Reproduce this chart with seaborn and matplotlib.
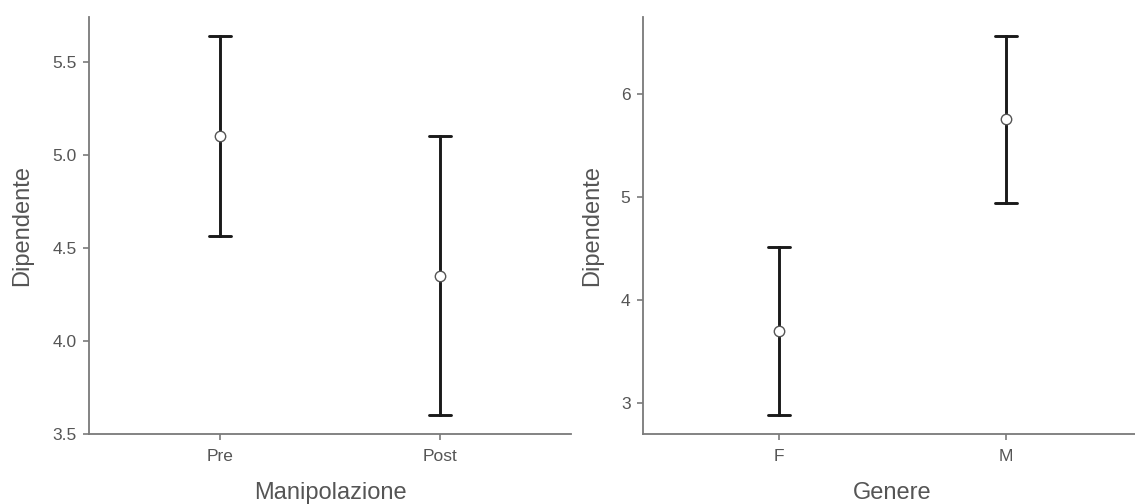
import numpy as np
import pandas as pd
import matplotlib
matplotlib.use("Agg")
import matplotlib.pyplot as plt
import seaborn as sns

# Means and 95% confidence limits of "Dipendente" per group
manip_levels = ["Pre", "Post"]
manip_mean = [5.10, 4.35]
manip_lower = [4.565, 3.60]
manip_upper = [5.64, 5.10]

genere_levels = ["F", "M"]
genere_mean = [3.70, 5.755]
genere_lower = [2.88, 4.94]
genere_upper = [4.515, 6.57]

sns.set_theme(style="ticks")
plt.rcParams["font.family"] = ["Liberation Sans", "DejaVu Sans"]

GRAY = "#7a7a7a"
TEXT = "#555555"


def summary_frame(levels, mean, lower, upper, xname):
    # each group is stored as (lower, mean, upper); the median gives the point
    # and the full percentile range gives the interval
    rows = []
    for lv, m, lo, hi in zip(levels, mean, lower, upper):
        for v in (lo, m, hi):
            rows.append({xname: lv, "Dipendente": v})
    return pd.DataFrame(rows)


fig = plt.figure(figsize=(11.35, 5.04), dpi=100)
W, H = 1135, 504
ax1 = fig.add_axes([89 / W, (H - 434) / H, (571 - 89) / W, (434 - 17) / H])
ax2 = fig.add_axes([643 / W, (H - 434) / H, 499 / W, (434 - 17) / H])

panels = [
    (ax1, summary_frame(manip_levels, manip_mean, manip_lower, manip_upper, "Manipolazione"),
     "Manipolazione", manip_levels, (3.5, 5.742), np.arange(3.5, 5.51, 0.5), "{:.1f}"),
    (ax2, summary_frame(genere_levels, genere_mean, genere_lower, genere_upper, "Genere"),
     "Genere", genere_levels, (2.70, 6.75), np.arange(3, 6.1, 1), "{:.0f}"),
]

for ax, df, xname, order, ylim, yticks, fmt in panels:
    sns.pointplot(
        data=df, x=xname, y="Dipendente", order=order,
        estimator="median", errorbar=("pi", 100),
        color="black", linestyle="none", marker="o", markersize=7.5,
        capsize=0.1, err_kws={"linewidth": 2.1, "color": "#1a1a1a"},
        ax=ax,
    )
    for ln in ax.lines:
        if ln.get_marker() == "o":
            ln.set_markerfacecolor("white")
            ln.set_markeredgecolor("#555555")
            ln.set_markeredgewidth(1.0)
            ln.set_zorder(10)
    ax.set_xlim(-0.6, 1.6)
    ax.set_ylim(*ylim)
    ax.set_yticks(yticks)
    ax.set_yticklabels([fmt.format(t) for t in yticks])
    ax.set_xlabel(xname, fontsize=17, color=TEXT, labelpad=12.5)
    ax.set_ylabel("Dipendente", fontsize=17, color=TEXT)
    ax.tick_params(axis="both", labelsize=12.5, colors=GRAY, labelcolor=TEXT,
                   length=4, width=1.2)
    ax.tick_params(axis="x", pad=7)
    ax.tick_params(axis="y", pad=5)
    for side in ("top", "right"):
        ax.spines[side].set_visible(False)
    for side in ("left", "bottom"):
        ax.spines[side].set_color(GRAY)
        ax.spines[side].set_linewidth(1.3)

# place the y labels at fixed horizontal positions in figure pixels
for ax, xpix in ((ax1, 33), (ax2, 603)):
    x_axes = (xpix - ax.get_position().x0 * W) / (ax.get_position().width * W)
    ax.yaxis.set_label_coords(x_axes, 0.5)

fig.savefig("out.png", dpi=100, facecolor="white")
